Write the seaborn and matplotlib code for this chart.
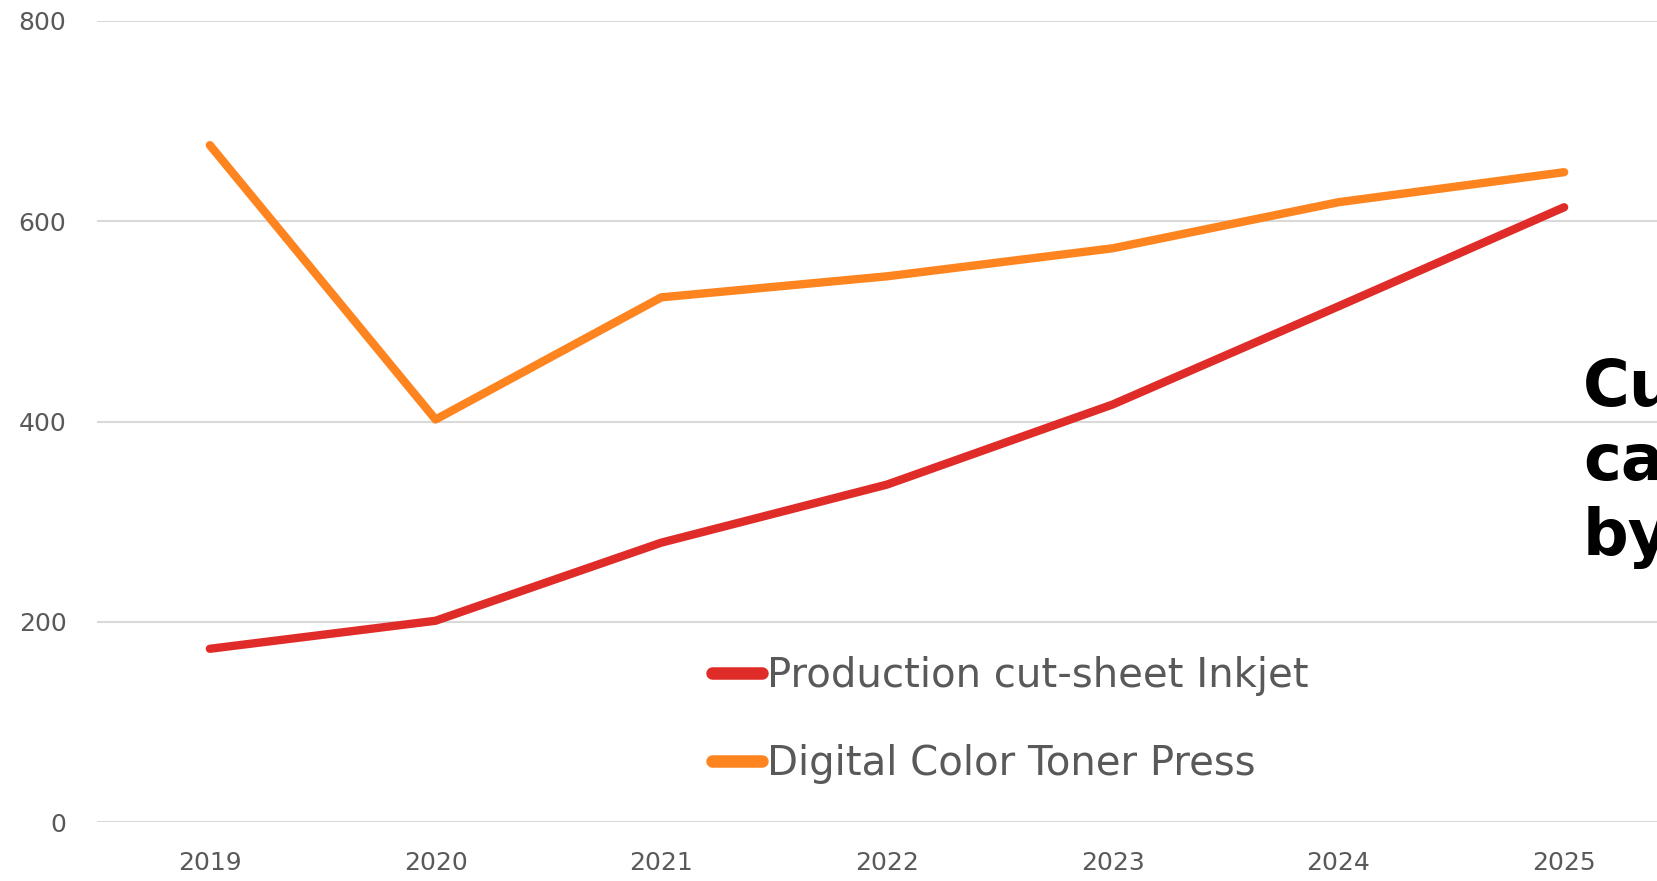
import pandas as pd
import matplotlib
matplotlib.use("Agg")
import matplotlib.pyplot as plt
import seaborn as sns

# data
years = [2019, 2020, 2021, 2022, 2023, 2024, 2025]
inkjet = [173, 201, 279, 337, 417, 515, 614]
toner = [676, 402, 524, 545, 573, 619, 649]
series_names = ["Production cut-sheet Inkjet", "Digital Color Toner Press"]
colors = ["#DF2C28", "#FD841F"]

df = pd.DataFrame({
    "year": years * 2,
    "value": inkjet + toner,
    "series": [series_names[0]] * len(years) + [series_names[1]] * len(years),
})

sns.set_theme(style="white")
plt.rcParams["font.family"] = ["DejaVu Sans"]
grey = "#595959"

fig = plt.figure(figsize=(16.58, 8.81), dpi=100)
ax = fig.add_axes([97 / 1658, 59 / 881, 1580 / 1658, 801 / 881])

sns.lineplot(data=df, x="year", y="value", hue="series", palette=colors,
             linewidth=6, sort=False, ax=ax, legend=True)
for line in ax.lines:
    line.set_solid_capstyle("round")
    line.set_solid_joinstyle("round")

ax.set_xlim(2018.5, 2025.5)
ax.set_ylim(0, 800)
ax.set_yticks([0, 200, 400, 600, 800])
ax.set_xticks(years)
ax.set_xticklabels([str(y) for y in years])
ax.set_xlabel("")
ax.set_ylabel("")
ax.grid(axis="y", color="#D9D9D9", linewidth=1.5)
ax.grid(axis="x", visible=False)
ax.set_axisbelow(True)
for s in ax.spines.values():
    s.set_visible(False)
ax.tick_params(axis="both", length=0, labelsize=18, labelcolor=grey)
ax.tick_params(axis="x", pad=21)
ax.tick_params(axis="y", pad=22)

handles, labels = ax.get_legend_handles_labels()
for h in handles:
    h.set_linewidth(9)
    h.set_solid_capstyle("round")
leg = ax.legend(handles, labels, loc="upper left", bbox_to_anchor=(692 / 1658, 1 - 636 / 881),
                bbox_transform=fig.transFigure, frameon=False, fontsize=29,
                handlelength=1.25, handletextpad=0.1, labelspacing=1.2, borderpad=0)
for t in leg.get_texts():
    t.set_color(grey)

fig.text(1583 / 1658, 1 - 463 / 881, "Cu\nca\nby", fontsize=46, fontweight="bold",
         color="black", ha="left", va="center", linespacing=1.25)

fig.savefig("out.png", dpi=100)
